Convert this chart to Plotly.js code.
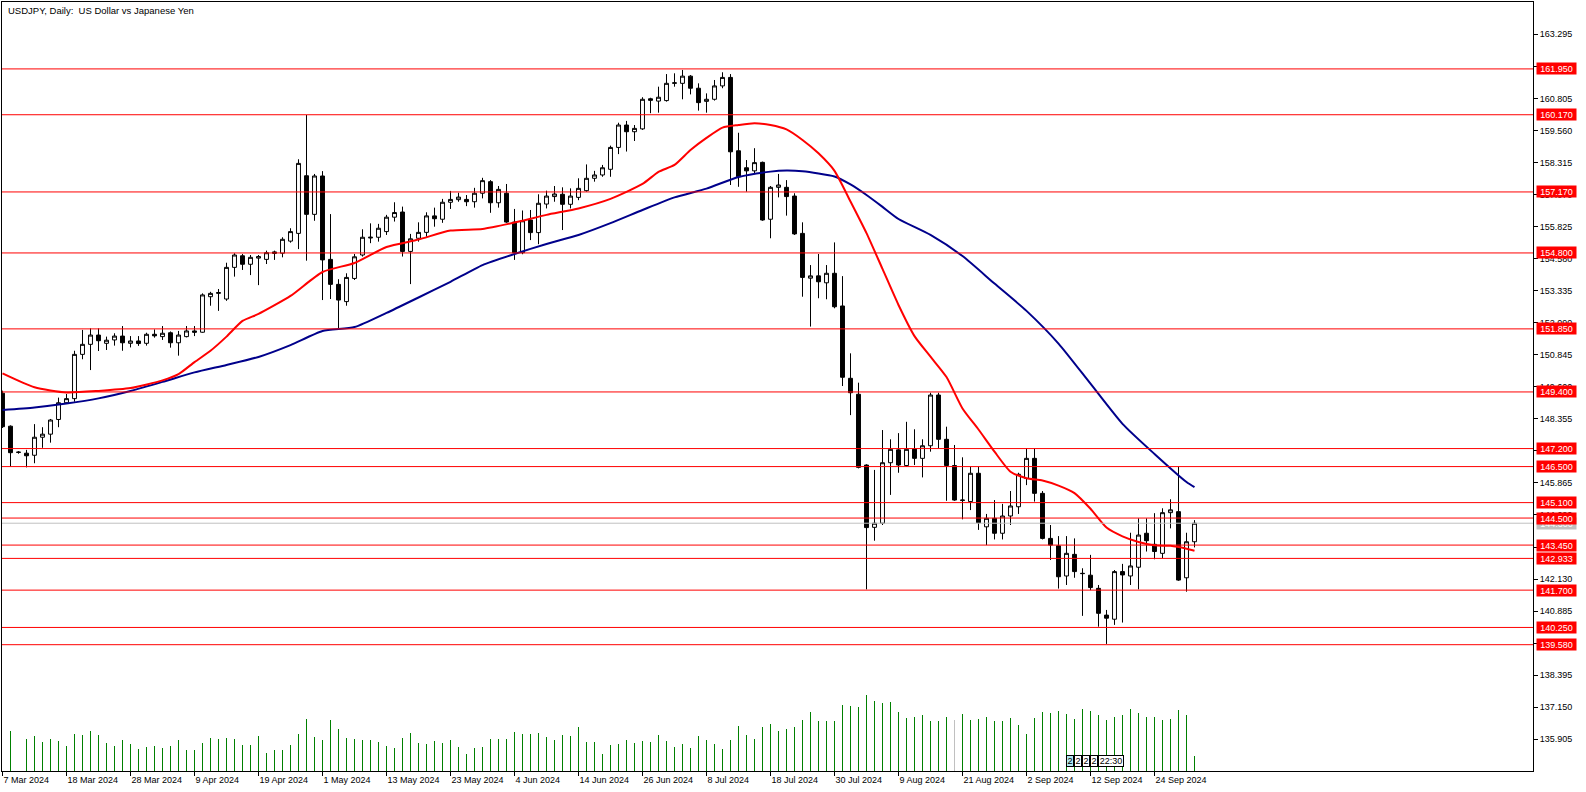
<!DOCTYPE html>
<html>
<head>
<meta charset="utf-8">
<script src="https://cdn.plot.ly/plotly-3.0.1.min.js"></script>
<style>html,body{margin:0;padding:0;background:#fff;}#chart{width:1586px;height:792px;}</style>
</head>
<body>
<div id="chart"></div>
<script>
// ---- data (bar index 0 = first visible bar) ----
const chartTitle = 'USDJPY, Daily:\u00a0 US Dollar vs Japanese Yen';

const openP = [
149.35,148.07,147.05,147.02,146.94,147.64,147.76,148.33,148.98,149.14,
150.86,151.25,151.61,151.29,151.42,151.57,151.29,151.38,151.29,151.64,
151.55,151.70,151.31,151.55,151.77,151.72,153.10,153.23,153.01,154.24,
154.69,154.36,154.60,154.55,154.78,154.79,155.26,155.56,157.80,156.30,
157.79,154.55,153.58,152.91,153.81,154.72,155.38,155.41,155.63,156.19,
156.39,154.86,155.37,155.60,156.24,156.11,156.77,156.87,156.88,156.79,
157.12,157.57,156.75,157.12,156.00,154.81,156.08,155.59,156.70,156.99,
157.08,156.69,156.96,157.22,157.70,157.83,158.05,158.90,159.77,159.51,
159.62,160.79,160.70,160.72,161.39,161.39,161.67,161.20,160.69,160.77,
161.29,161.62,158.77,158.11,157.99,158.32,156.11,157.35,157.35,157.01,
155.56,153.82,153.91,153.64,154.01,152.74,149.93,149.31,146.56,144.14,
144.30,146.65,147.15,146.54,147.18,146.82,147.31,149.28,147.56,146.54,
145.18,145.14,146.24,144.16,144.49,143.91,144.58,144.94,146.04,146.82,
145.46,143.71,143.42,142.25,143.09,142.34,142.28,141.77,140.73,140.57,
142.42,142.25,142.59,143.91,143.48,143.13,144.71,144.75,142.18,143.58];

const highP = [
149.45,148.10,147.10,147.15,148.15,148.03,148.35,149.18,149.32,151.00,
151.81,151.87,151.87,151.55,151.68,151.96,151.57,151.57,151.70,151.83,
151.96,151.75,151.77,151.96,151.96,153.23,153.29,153.40,154.42,154.79,
154.76,154.72,154.72,154.89,154.89,155.41,155.76,158.44,160.16,157.87,
157.98,156.31,153.78,154.01,154.76,155.72,155.95,155.93,156.28,156.77,
156.60,155.54,155.99,156.38,156.56,156.90,157.21,157.14,157.05,157.33,
157.72,157.63,157.40,157.48,156.51,156.45,156.47,157.08,157.22,157.40,
157.35,157.31,157.70,158.24,157.99,158.22,158.97,159.86,159.93,159.77,
160.85,160.83,161.26,161.75,161.78,161.91,161.71,161.39,161.00,161.52,
161.82,161.75,159.47,158.41,158.87,158.35,157.40,157.87,157.63,157.12,
155.99,154.33,154.76,154.33,155.21,153.90,150.90,149.76,146.59,146.37,
147.92,147.56,147.80,148.24,147.95,147.56,149.37,149.37,148.05,147.34,
146.86,146.50,146.50,144.66,145.20,145.05,145.55,146.26,147.21,147.21,
145.55,144.23,143.80,143.80,143.71,142.55,143.07,141.90,140.93,142.48,
142.72,143.93,144.49,144.49,144.69,144.88,145.23,146.50,143.93,144.42];

const lowP = [
148.00,146.50,147.00,146.47,146.63,147.23,147.43,148.03,148.95,149.02,
150.67,150.25,150.99,151.03,151.20,151.00,151.13,151.19,151.20,151.51,
151.42,151.12,150.81,151.52,151.57,151.70,152.75,152.55,152.94,153.88,
154.14,153.94,153.55,154.37,154.53,154.63,155.20,154.95,154.50,156.05,
152.97,153.01,151.83,152.75,153.75,154.66,155.18,155.24,155.50,156.02,
154.66,153.59,155.24,155.43,155.82,155.97,156.51,156.79,156.62,156.56,
156.92,156.36,156.56,155.97,154.53,154.75,155.30,155.14,156.53,156.79,
155.69,156.53,156.85,157.18,157.57,157.76,157.76,158.64,158.74,159.15,
159.58,160.23,160.25,160.68,161.26,160.77,160.96,160.33,160.25,160.72,
161.20,157.44,157.37,157.18,157.90,156.05,155.37,156.96,156.25,155.50,
153.10,151.94,153.04,153.00,152.65,149.63,148.50,146.43,141.73,143.62,
144.23,145.40,146.26,146.50,146.56,146.08,147.08,147.21,145.17,145.17,
144.45,144.81,144.04,143.45,143.67,143.67,144.23,144.66,145.78,145.14,
143.67,142.87,141.76,141.90,142.18,140.70,141.70,140.28,139.61,140.35,
140.44,141.90,141.73,143.20,142.90,142.94,144.10,142.06,141.64,143.36];

const closeP = [
148.05,147.04,147.06,146.92,147.64,147.76,148.31,148.98,149.14,150.86,
151.25,151.61,151.39,151.41,151.57,151.31,151.38,151.28,151.64,151.58,
151.68,151.31,151.61,151.77,151.72,153.17,153.23,153.26,154.24,154.72,
154.36,154.63,154.66,154.81,154.84,155.33,155.63,158.28,156.30,157.79,
154.53,153.58,152.97,153.85,154.65,155.41,155.41,155.76,156.19,156.37,
154.86,155.35,155.60,156.24,156.13,156.77,156.88,156.97,156.79,157.12,
157.61,156.75,157.27,156.00,154.81,156.05,155.59,156.73,157.01,157.09,
156.69,157.01,157.31,157.70,157.83,158.11,158.90,159.77,159.51,159.64,
160.77,160.73,160.85,161.39,161.41,161.67,161.20,160.64,160.77,161.29,
161.62,158.73,157.76,157.99,158.31,156.08,157.35,157.44,156.99,155.54,
153.85,153.91,153.68,154.01,152.71,149.97,149.37,146.47,144.13,144.30,
146.65,147.17,146.56,147.17,146.82,147.31,149.28,147.56,146.54,145.20,
145.20,146.24,144.32,144.49,143.91,144.58,144.97,146.20,146.82,145.46,
143.71,143.45,142.22,143.13,142.42,142.35,141.80,140.80,140.61,142.42,
142.29,142.64,143.84,143.62,143.20,144.71,144.82,142.09,143.58,144.30];

// tick volume
const volume = [
0,39700,500,31700,34700,28700,31700,29700,24700,36700,
35700,39700,35700,27700,24700,30700,26700,21700,23700,24700,
22700,24700,30700,20700,20700,27700,32700,31700,32700,31700,
25700,25700,34700,17700,20700,20700,25700,36700,51700,33700,
30700,50700,41700,32700,31700,30700,30700,28700,24700,22700,
32700,37700,27700,26700,29700,27700,30700,23700,16700,22700,
23700,31700,31700,31700,38700,36700,36700,37700,33700,30700,
35700,34700,43700,28700,28700,16700,25700,26700,30700,27700,
29700,28700,35700,29700,23700,26700,22700,34700,30700,26700,
21700,30700,44700,35700,31700,43700,46700,39700,41700,43700,
50700,58700,49700,49700,49700,65700,64700,63700,75700,69700,
67700,68700,58700,52700,53700,55700,49700,49700,53700,50700,
56700,50700,51700,53700,49700,49700,52700,45700,36700,52700,
58700,57700,59700,56700,51700,61700,59700,55700,50700,53700,
55700,61700,57700,53700,53700,50700,51700,60700,55700,14700];

// moving averages (sampled at bar indices)
const maFastBars = [0,4,8,12,16,20,22,24,26,28,30,32,36,40,44,48,52,56,60,64,68,72,76,80,82,84,86,88,90,92,94,96,98,100,102,104,106,108,110,112,114,116,118,120,122,124,126,128,130,132,134,136,138,140,142,144,146,148,149];
const maFast = [150.12,149.58,149.38,149.44,149.55,149.85,150.09,150.56,151.00,151.55,152.16,152.43,153.13,154.06,154.41,155.03,155.32,155.67,155.73,155.98,156.28,156.53,156.90,157.48,157.95,158.22,158.80,159.27,159.67,159.77,159.84,159.77,159.60,159.19,158.67,157.99,156.80,155.57,154.18,152.78,151.57,150.77,149.98,148.76,147.94,147.08,146.30,146.05,145.96,145.76,145.47,144.86,144.13,143.79,143.57,143.44,143.42,143.31,143.23];

const maSlowBars = [0,4,8,12,16,20,24,28,32,36,40,44,48,52,56,60,64,68,72,76,80,84,88,92,96,98,100,104,106,108,110,112,116,120,124,128,132,136,140,144,148,149];
const maSlow = [148.70,148.80,148.95,149.15,149.44,149.79,150.16,150.45,150.76,151.22,151.77,151.92,152.47,153.07,153.68,154.33,154.76,155.15,155.50,155.96,156.47,156.96,157.30,157.75,157.96,158.00,157.97,157.77,157.46,157.05,156.59,156.12,155.50,154.68,153.61,152.55,151.28,149.72,148.16,146.99,145.90,145.70];

// horizontal levels
const levels = [161.950,160.170,157.170,154.800,151.850,149.400,147.200,146.500,145.100,144.500,143.450,142.933,141.700,140.250,139.580];

// price scale labels
const yTickLabels = ['135.905','137.150','138.395','139.640','140.885','142.130','143.375','144.620','145.865','147.110','148.355','149.600','150.845','152.090','153.335','154.580','155.825','157.070','158.315','159.560','160.805','162.050','163.295'];

// time scale labels
const xTickBars = [0,8,16,24,32,40,48,56,64,72,80,88,96,104,112,120,128,136,144];
const xTickLabels = ['7 Mar 2024','18 Mar 2024','28 Mar 2024','9 Apr 2024','19 Apr 2024','1 May 2024','13 May 2024','23 May 2024','4 Jun 2024','14 Jun 2024','26 Jun 2024','8 Jul 2024','18 Jul 2024','30 Jul 2024','9 Aug 2024','21 Aug 2024','2 Sep 2024','12 Sep 2024','24 Sep 2024'];

const timerLabels = ['2','2','2','2','22:30'];
const greyVolumeBars = [119];

// ---- build chart ----
const bars = openP.map((_, i) => i);
const FONT = '"Liberation Sans", Arial, sans-serif';

const volColors = bars.map(i => greyVolumeBars.includes(i) ? '#c0c0c0' : '#008000');

const traces = [
  {type:'bar', x:bars, y:volume, yaxis:'y2', width:0.125,
   marker:{color:volColors, line:{width:0}}, hoverinfo:'skip'},
  {type:'candlestick', x:bars, open:openP, high:highP, low:lowP, close:closeP,
   whiskerwidth:0,
   increasing:{line:{color:'#000000', width:1}, fillcolor:'#ffffff'},
   decreasing:{line:{color:'#000000', width:1}, fillcolor:'#000000'},
   hoverinfo:'skip'},
  {type:'scatter', mode:'lines', x:maSlowBars, y:maSlow,
   line:{color:'#00008b', width:2, shape:'spline', smoothing:0.6}, hoverinfo:'skip'},
  {type:'scatter', mode:'lines', x:maFastBars, y:maFast,
   line:{color:'#ff0000', width:2, shape:'spline', smoothing:0.6}, hoverinfo:'skip'}
];

const lastClose = closeP[closeP.length - 1];

const shapes = levels.map(v => ({
  type:'line', xref:'paper', x0:0, x1:1, yref:'y', y0:v, y1:v,
  line:{color:'#ff0000', width:1}, layer:'above'
}));
shapes.unshift({type:'line', xref:'paper', x0:0, x1:1, yref:'y', y0:lastClose, y1:lastClose,
  line:{color:'#c0c0c0', width:1}, layer:'above'});

const annotations = [];
annotations.push({xref:'paper', yref:'paper', x:0, y:1, xanchor:'left', yanchor:'top',
  xshift:4, yshift:-1, text:chartTitle, showarrow:false,
  font:{family:FONT, size:9.5, color:'#000'}});
// bid label (grey) first, level labels above it
annotations.push({xref:'paper', yref:'y', x:1, y:lastClose, xanchor:'left', yanchor:'middle',
  xshift:3, text:lastClose.toFixed(3), showarrow:false, bgcolor:'#c0c0c0',
  width:37, height:9, borderpad:1, font:{family:FONT, size:9, color:'#ffffff'}});
levels.forEach(v => annotations.push({xref:'paper', yref:'y', x:1, y:v, xanchor:'left', yanchor:'middle',
  xshift:3, text:v.toFixed(3), showarrow:false, bgcolor:'#ff0000',
  width:37, height:9, borderpad:1, font:{family:FONT, size:9, color:'#ffffff'}}));

// countdown boxes near the bottom (pixel placement relative to plot area)
const plotL = 2, plotW = 1531, plotB = 771, plotH = 769;
const timerX = [1066, 1074, 1082, 1090, 1098];
const timerW = [8, 8, 8, 8, 26];
timerLabels.forEach((t, k) => annotations.push({
  xref:'paper', yref:'paper', x:(timerX[k] - plotL) / plotW, y:(plotB - 761) / plotH,
  xanchor:'left', yanchor:'middle', text:t, showarrow:false,
  bgcolor: k === 0 ? '#b0e8f0' : '#ffffff', bordercolor:'#000', borderwidth:1, borderpad:0,
  width:timerW[k] - 2, height:10, font:{family:FONT, size:9, color:'#000'}
}));

// half-pixel shift so 1px wicks / volume lines land on whole pixels
const halfPx = 0.5 / 8;

const layout = {
  width:1586, height:792,
  margin:{l:2, r:53, t:2, b:21, pad:0},
  paper_bgcolor:'#ffffff', plot_bgcolor:'#ffffff',
  showlegend:false, dragmode:false, hovermode:false,
  font:{family:FONT, size:9, color:'#000'},
  bargap:0,
  xaxis:{range:[0 - halfPx, 191.375 - halfPx], tickmode:'array', tickvals:xTickBars, ticktext:xTickLabels,
    ticks:'outside', ticklen:4, tickcolor:'#000', tickwidth:1,
    ticklabelposition:'outside right',
    showgrid:false, zeroline:false, showline:true, linecolor:'#000', linewidth:1, mirror:true,
    rangeslider:{visible:false}, fixedrange:true, tickfont:{family:FONT, size:9, color:'#000'}},
  yaxis:{range:[134.673, 164.550], side:'right', tickmode:'array',
    tickvals:yTickLabels.map(Number), ticktext:yTickLabels,
    ticks:'outside', ticklen:4, tickcolor:'#000', tickwidth:1,
    showgrid:false, zeroline:false, showline:true, linecolor:'#000', linewidth:1, mirror:true,
    fixedrange:true, tickfont:{family:FONT, size:9, color:'#000'}},
  yaxis2:{range:[0, 769000], overlaying:'y', visible:false, fixedrange:true},
  shapes:shapes,
  annotations:annotations
};

Plotly.newPlot('chart', traces, layout, {staticPlot:true, displayModeBar:false});
</script>
</body>
</html>
